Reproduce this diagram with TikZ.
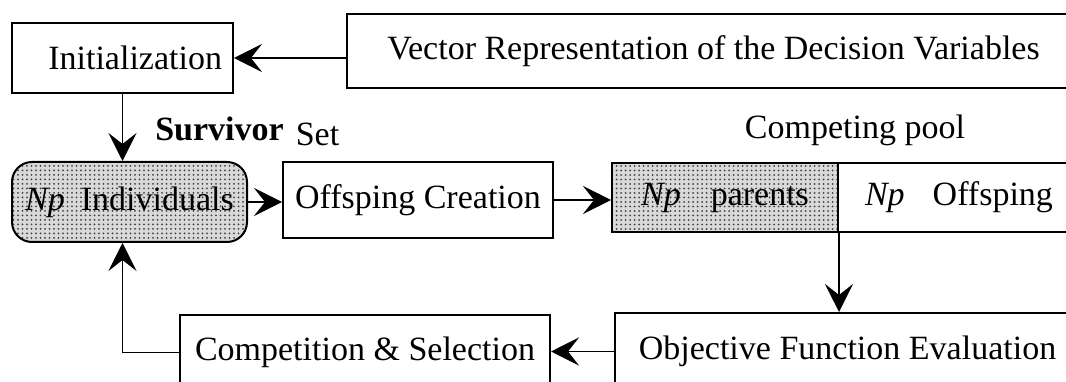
\documentclass[tikz,border=0pt]{standalone}
\usepackage{fontspec}
\setmainfont{Liberation Serif}
\usetikzlibrary{arrows.meta,patterns.meta,calc}
\begin{document}
\begin{tikzpicture}[x=1pt,y=-1pt,
  box/.style={draw, line width=2pt, inner sep=0pt, font=\fontsize{34}{40}\selectfont},
  txt/.style={inner sep=0pt, font=\fontsize{34}{40}\selectfont},
  shaded/.style={preaction={fill=gray!30}, pattern={Dots[distance=4.5pt,radius=1pt]}, pattern color=black!75},
  arr/.style={line width=1.8pt, -{Stealth[length=28pt,width=28pt,inset=11pt]}},
  thinarr/.style={line width=1.2pt, -{Stealth[length=28pt,width=28pt,inset=11pt]}}]
\useasboundingbox (0,0) rectangle (1066,382);
\clip (0,0) rectangle (1066,382);
\node[box, minimum width=221pt, minimum height=70pt, text width=199pt, align=right, inner xsep=11pt] (init) at (122.5,58) {Initialization};
\node[box, minimum width=733pt, minimum height=74pt] (vec) at (713.5,51) {Vector Representation of the Decision Variables};
\node[box, shaded, rounded corners=20pt, minimum width=235pt, minimum height=80pt] (npi) at (129.5,202) {\textit{Np}\hspace{16pt}Individuals};
\node[box, minimum width=270pt, minimum height=76pt] (off) at (418,200) {Offsping Creation};
\node[box, shaded, minimum width=226pt, minimum height=69pt] (par) at (725,197.5) {\textit{Np}\hspace{30pt}parents};
\node[box, minimum width=242pt, minimum height=69pt] (pof) at (959,197.5) {\textit{Np}\hspace{28pt}Offsping};
\node[txt] (pool) at (855,130) {Competing pool};
\node[txt, font=\fontsize{34}{40}\selectfont\bfseries] (surv) at (219.5,129) {Survivor};
\node[txt] (set) at (317.5,134) {Set};
\node[box, minimum width=465pt, minimum height=77pt] (obj) at (847.5,351.5) {Objective Function Evaluation};
\node[box, minimum width=370pt, minimum height=75pt] (comp) at (365,352.5) {Competition \& Selection};
\draw[arr] (init.east -| vec.west) -- (init.east);
\draw[arr] (init.south) -- (init.south |- npi.north);
\draw[arr] (npi.east) -- (npi.east -| off.west);
\draw[arr] (off.east) -- (off.east -| par.west);
\draw[arr] (par.south east) -- (par.south east |- obj.north);
\draw[arr] (obj.west) -- (obj.west -| comp.east);
\draw[thinarr] (comp.west) -| (init.south |- npi.south);
\end{tikzpicture}
\end{document}
